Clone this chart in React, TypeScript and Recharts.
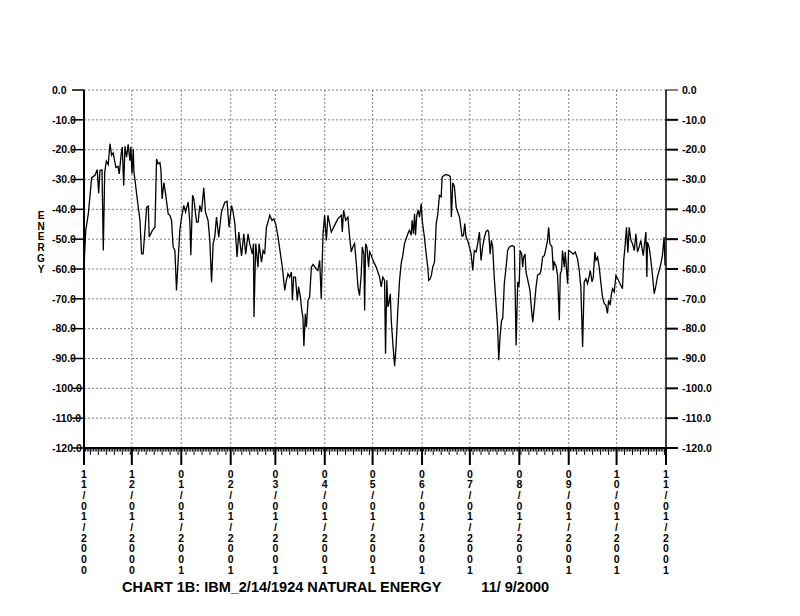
import React from 'react';
import { LineChart, Line, XAxis, YAxis, CartesianGrid, ReferenceLine } from 'recharts';

// day offset from 11/01/2000
const dayOffsets = [
  0, 1.1, 2.7, 4.8, 6.9, 8.3, 9.2, 10.0, 11.3, 12.1,
  13.0, 14.0, 15.2, 16.3, 17.3, 18.3, 20.0, 21.3, 22.1, 23.4,
  24.0, 24.9, 25.7, 26.7, 27.7, 28.8, 29.4, 30.1, 30.9, 31.3,
  32.1, 33.0, 35.1, 36.1, 37.1, 39.3, 40.3, 40.9, 43.0, 44.5,
  45.5, 46.5, 47.6, 48.2, 49.0, 50.1, 51.2, 52.8, 53.9, 54.9,
  55.9, 57.0, 58.0, 60.1, 61.2, 62.6, 63.7, 65.3, 66.4, 67.0,
  68.1, 68.9, 70.6, 71.6, 72.6, 73.7, 75.1, 76.2, 77.8, 78.9,
  80.0, 81.0, 82.0, 83.1, 84.5, 86.2, 88.3, 89.7, 91.0, 92.5,
  93.5, 94.6, 96.0, 97.1, 98.8, 100.2, 101.4, 102.9, 103.9, 105.6,
  106.3, 106.6, 107.7, 109.1, 109.8, 111.3, 112.3, 113.3, 114.4, 115.7,
  116.5, 117.9, 119.0, 120.2, 121.7, 123.2, 124.4, 125.9, 126.9, 127.9,
  129.0, 130.1, 130.7, 131.5, 132.6, 133.8, 134.6, 135.7, 136.7, 137.3,
  137.9, 138.8, 139.5, 140.5, 141.5, 142.6, 143.6, 145.7, 146.7, 147.8,
  148.8, 149.9, 150.9, 152.0, 153.0, 155.1, 157.2, 159.2, 161.4, 162.0,
  162.8, 164.1, 165.5, 166.6, 167.6, 168.6, 169.7, 170.8, 171.8, 172.8,
  173.9, 174.5, 175.5, 176.0, 176.6, 177.4, 178.5, 179.1, 180.2, 181.2,
  182.2, 183.3, 184.3, 185.4, 186.4, 187.4, 188.5, 189.1, 189.9, 190.6,
  191.2, 192.1, 192.7, 193.7, 194.8, 195.8, 196.8, 197.9, 198.9, 199.9,
  201.0, 202.1, 203.1, 204.1, 205.2, 205.8, 206.6, 207.3, 207.9, 208.7,
  209.6, 210.4, 211.5, 212.1, 212.9, 213.5, 214.6, 215.6, 216.2, 217.1,
  217.9, 218.7, 219.8, 220.9, 221.9, 222.9, 224.0, 224.6, 226.1, 227.1,
  228.8, 229.8, 230.4, 231.3, 232.3, 233.4, 234.4, 235.5, 237.1, 238.0,
  238.8, 239.6, 240.6, 241.7, 242.8, 243.8, 244.8, 245.9, 246.9, 248.0,
  249.0, 250.0, 251.1, 252.2, 253.2, 253.8, 254.7, 255.5, 256.3, 257.4,
  258.4, 259.4, 260.1, 260.9, 261.9, 262.6, 263.6, 264.7, 265.7, 266.8,
  268.5, 269.9, 271.0, 272.0, 272.6, 273.0, 273.5, 274.5, 275.1, 275.7,
  276.6, 277.2, 278.8, 279.7, 280.5, 281.4, 282.4, 283.5, 284.5, 286.0,
  286.6, 287.6, 288.7, 289.7, 290.7, 291.4, 292.2, 293.5, 294.3, 294.9,
  296.0, 297.0, 298.1, 298.7, 299.5, 300.1, 301.2, 301.8, 303.3, 303.9,
  305.4, 306.8, 308.1, 309.5, 310.6, 311.6, 312.7, 313.7, 314.8, 315.8,
  316.9, 317.5, 318.6, 319.4, 320.4, 321.1, 322.1, 323.1, 324.2, 325.2,
  326.3, 327.3, 328.3, 329.0, 330.0, 330.8, 331.5, 332.5, 333.6, 334.6,
  335.6, 337.7, 338.5, 339.4, 340.2, 341.1, 341.9, 343.0, 344.0, 345.1,
  346.1, 347.1, 348.2, 349.2, 350.7, 351.8, 352.4, 353.0, 353.4, 354.5,
  355.5, 356.5, 357.6, 358.7, 359.6, 360.7, 361.8, 362.8, 363.8, 364.4,
];

const energyValues = [
  -59.4, -47, -41.5, -29.4, -28.6, -26.7, -34.6, -27, -26.8, -53.8,
  -27.5, -23.8, -25, -18, -21.9, -21.1, -26, -25.6, -28.1, -21.1,
  -19.1, -32, -18.9, -22.5, -18.2, -23.7, -19, -28.1, -19.7, -27.5,
  -30.7, -34.8, -43.7, -54.9, -54.9, -39.3, -38.9, -49.3, -47, -46,
  -23.1, -24.8, -24.3, -26.5, -36.5, -31, -34.9, -41.5, -42, -43.7,
  -52.6, -53.8, -67.2, -47, -42.6, -38.7, -40.9, -37.6, -44.3, -55.4,
  -35.3, -36.5, -44.3, -44.3, -38.7, -40.9, -32.8, -40.9, -43.7, -50.4,
  -64.4, -51.5, -49.3, -42.6, -49.3, -40.9, -37.6, -37.3, -46, -38.7,
  -40.9, -44.8, -56, -47.6, -55.6, -48.2, -55, -48.2, -51.5, -55,
  -51.5, -76.1, -51.5, -59.4, -51.5, -57.7, -53.8, -55, -46, -43.7,
  -42, -43.7, -43.2, -44.8, -49.3, -55, -59.4, -67.2, -63.8, -61.6,
  -62.7, -61, -70.5, -62.7, -62.7, -70.5, -66, -69.4, -74.4, -76.1,
  -85.9, -75, -79.5, -70.5, -69.4, -59.4, -58.5, -60, -60.5, -57.1,
  -70, -48.2, -42, -50.4, -42, -47.6, -45.3, -43.2, -42, -47.6,
  -40.3, -43.7, -42.6, -49.3, -54.3, -52.6, -51.5, -58.2, -66, -68.9,
  -61.6, -52.6, -55, -73.9, -51.5, -52.6, -59.4, -54.3, -55.5, -57.1,
  -58.2, -59.4, -61, -62.7, -66, -62.7, -63.8, -88.4, -63.8, -72.7,
  -71.6, -68.3, -77.2, -85, -92.6, -85, -73.9, -63.8, -58.2, -55.5,
  -51.5, -49.8, -48.2, -47, -48.7, -43.7, -48.2, -41.5, -48.7, -42,
  -40.3, -42.6, -38.1, -43.7, -47, -49.3, -55, -59.4, -63.8, -63.3,
  -62, -59.4, -57.7, -44.8, -41.5, -35.3, -35.8, -29.2, -28.5, -28.4,
  -28.6, -29.2, -42.6, -31.1, -32.3, -39.3, -41, -42.6, -49, -48.7,
  -44.8, -49.3, -50.4, -52.6, -55, -60.5, -53.8, -54.3, -51.5, -47.6,
  -57.1, -52.6, -49.3, -47.4, -47, -47.6, -55, -50.4, -52.6, -63.8,
  -71.6, -79.5, -90.6, -82.8, -77.2, -76.6, -64.9, -59.4, -53.8, -52.6,
  -52.1, -52.6, -85.6, -64.3, -66, -64.3, -53.8, -55, -59.4, -56,
  -55, -61, -64.9, -67.2, -72.7, -77.8, -72.7, -66, -62, -61.6,
  -60.5, -56, -55.5, -53.2, -50.4, -46, -51.5, -52.6, -60.5, -57.7,
  -58.8, -62.2, -77.2, -61.6, -60.5, -53.8, -59.4, -54.3, -64.9, -53.8,
  -54.3, -55, -54.3, -56.6, -60.5, -66, -86.1, -64.3, -63.2, -64.9,
  -62.2, -60.5, -64.3, -62.7, -54.3, -57.1, -56, -59.4, -64.9, -69.4,
  -71.6, -72.1, -74.9, -70.5, -72.1, -68.3, -66.6, -67.7, -62.2, -63.2,
  -64.3, -66.6, -57, -52, -46, -54.5, -46, -50.4, -51.5, -53.8,
  -48.2, -54.3, -52.6, -50.4, -55.5, -50.4, -47.6, -62.7, -51, -53,
  -57, -62, -68.3, -65.5, -62.7, -60.5, -58.2, -55.3, -49.3, -58.8,
];

const monthLabels = [
  '11/01/2000', '12/01/2000', '01/01/2001', '02/01/2001', '03/01/2001', '04/01/2001', '05/01/2001',
  '06/01/2001', '07/01/2001', '08/01/2001', '09/01/2001', '10/01/2001', '11/01/2001',
];
const energyTicks = [0, -10, -20, -30, -40, -50, -60, -70, -80, -90, -100, -110, -120];
const axisName = 'ENERGY';
const chartTitle = 'CHART 1B: IBM_2/14/1924 NATURAL ENERGY';
const chartDate = '11/ 9/2000';

const FONT = '"Liberation Sans", Arial, Helvetica, sans-serif';

const toUTC = (s: string) => {
  const [m, d, y] = s.split('/').map(Number);
  return Date.UTC(y, m - 1, d);
};
const startUTC = toUTC(monthLabels[0]);
const monthDays = monthLabels.map((l) => Math.round((toUTC(l) - startUTC) / 86400000));
const lastDay = monthDays[monthDays.length - 1];
const dayTicks = Array.from({ length: lastDay + 1 }, (_, i) => i);

const data = dayOffsets.map((day, i) => ({ day, energy: energyValues[i] }));

const XTick = (props: any) => {
  const { x, y, payload } = props;
  const day = payload.value;
  const mi = monthDays.indexOf(day);
  if (mi >= 0) {
    return (
      <g>
        <line x1={x} x2={x} y1={y} y2={y + 17} stroke="#000" strokeWidth={2} />
        <text x={x} y={y + 29.5} textAnchor="middle" fontFamily={FONT} fontWeight="bold" fontSize={10.5} fill="#000">
          {monthLabels[mi].split('').map((c, i) => (
            <tspan key={i} x={x} dy={i === 0 ? 0 : 10.67}>{c}</tspan>
          ))}
        </text>
      </g>
    );
  }
  const len = day % 5 === 4 ? 7 : 3.5;
  return <line x1={x} x2={x} y1={y} y2={y + len} stroke="#000" strokeWidth={1} />;
};

const LeftTick = (props: any) => {
  const { x, y, payload } = props;
  return (
    <g>
      <text x={x - 32} y={y} dy="0.36em" textAnchor="start" fontFamily={FONT} fontWeight="bold" fontSize={10.5} fill="#000">
        {Number(payload.value).toFixed(1)}
      </text>
      <line x1={x - 12} x2={x} y1={y} y2={y} stroke="#000" strokeWidth={1.5} />
    </g>
  );
};

const RightTick = (props: any) => {
  const { x, y, payload } = props;
  return (
    <g>
      <line x1={x} x2={x + 12} y1={y} y2={y} stroke="#000" strokeWidth={payload.value === 0 ? 1 : 2} />
      <text x={x + 16} y={y} dy="0.36em" textAnchor="start" fontFamily={FONT} fontWeight="bold" fontSize={10.5} fill="#000">
        {Number(payload.value).toFixed(1)}
      </text>
    </g>
  );
};

const EnergyLabel = () => (
  <text x={41} y={219} textAnchor="middle" fontFamily={FONT} fontWeight="bold" fontSize={10} fill="#000">
    {axisName.split('').map((c, i) => (
      <tspan key={i} x={41} dy={i === 0 ? 0 : 10.7}>{c}</tspan>
    ))}
  </text>
);

const TitleLabel = () => (
  <text x={122} y={592} fontFamily={FONT} fontWeight="bold" fontSize={14.5} fill="#000" style={{ whiteSpace: 'pre' }}>
    {chartTitle + '          ' + chartDate}
  </text>
);

export default function App() {
  return (
    <div style={{ position: 'absolute', left: 0, top: 0, width: 800, height: 616, background: '#fff' }}>
      <LineChart width={800} height={616} data={data} margin={{ top: 90, right: 0, bottom: 0, left: 0 }}>
        <CartesianGrid yAxisId="left" vertical={false} stroke="#808080" strokeDasharray="2 2" />
        {monthDays.slice(1, -1).map((d) => (
          <ReferenceLine key={d} x={d} yAxisId="left" stroke="#808080" strokeDasharray="2 2" />
        ))}
        <XAxis
          dataKey="day"
          type="number"
          domain={[0, lastDay]}
          ticks={dayTicks}
          interval={0}
          allowDataOverflow
          tickLine={false}
          tickSize={0}
          tickMargin={0}
          axisLine={{ stroke: '#000', strokeWidth: 2 }}
          height={168}
          tick={XTick}
          label={<TitleLabel />}
        />
        <YAxis
          yAxisId="left"
          type="number"
          domain={[-120, 0]}
          ticks={energyTicks}
          interval={0}
          allowDataOverflow
          width={84}
          tickLine={false}
          tickSize={0}
          tickMargin={0}
          axisLine={{ stroke: '#000', strokeWidth: 2 }}
          tick={LeftTick}
          label={<EnergyLabel />}
        />
        <YAxis
          yAxisId="right"
          orientation="right"
          type="number"
          domain={[-120, 0]}
          ticks={energyTicks}
          interval={0}
          allowDataOverflow
          width={134}
          tickLine={false}
          tickSize={0}
          tickMargin={0}
          axisLine={{ stroke: '#000', strokeWidth: 1.5 }}
          tick={RightTick}
        />
        <Line
          yAxisId="left"
          type="linear"
          dataKey="energy"
          stroke="#000"
          strokeWidth={1.3}
          dot={false}
          isAnimationActive={false}
        />
      </LineChart>
    </div>
  );
}
